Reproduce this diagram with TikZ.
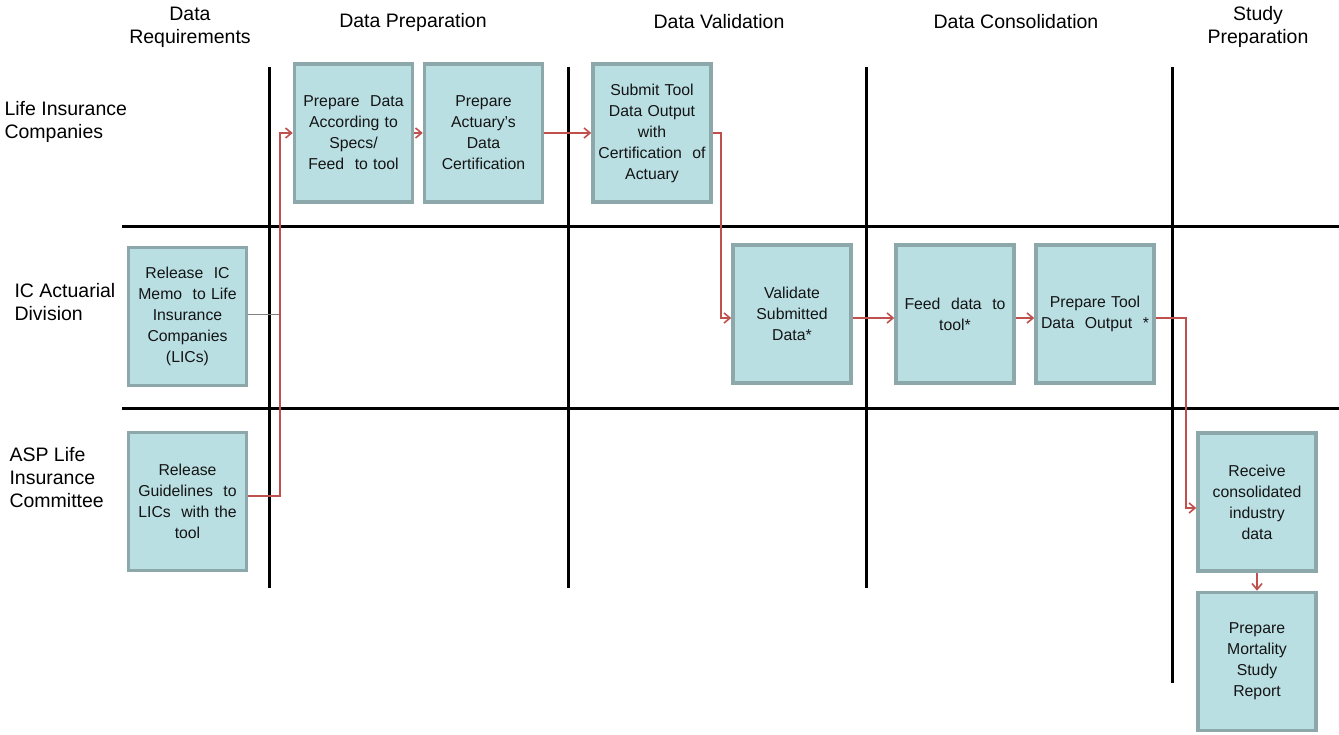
\documentclass[tikz,border=0pt]{standalone}
\usepackage{fontspec}
\setmainfont{Liberation Sans}
\usetikzlibrary{arrows.meta}
\definecolor{boxfill}{HTML}{B9DFE3}
\definecolor{boxline}{HTML}{8DA8AB}
\definecolor{flow}{HTML}{C0504D}
\definecolor{memo}{HTML}{7F7F7F}
\definecolor{ink}{HTML}{141414}
\tikzset{
  task/.style={draw=boxline, fill=boxfill, line width=3.5pt,
    minimum width=116pt, minimum height=138pt, inner sep=1pt,
    text width=116pt, align=center, text=ink,
    font=\fontsize{15.8}{21}\selectfont},
  lane/.style={draw=black, line width=3pt},
  head/.style={align=center, font=\fontsize{19.5}{23}\selectfont},
  lanelabel/.style={align=left, anchor=west, font=\fontsize{19.5}{23}\selectfont},
  flowline/.style={draw=flow, line width=2pt, -{Straight Barb[length=6pt,width=10pt,line width=1.6pt]}},
}
\begin{document}
\begin{tikzpicture}[x=1pt,y=-1pt]
\useasboundingbox (0,0) rectangle (1339,734);

% swimlane dividers
\draw[lane] (269,67) -- (269,588);
\draw[lane] (568,67) -- (568,588);
\draw[lane] (866,67) -- (866,588);
\draw[lane] (1172,67) -- (1172,683);
\draw[lane] (122,226) -- (1339,226);
\draw[lane] (122,408) -- (1339,408);

% phase headings
\node[head] (hReq) at (190,27) {Data\\Requirements};
\node[head] (hPrep) at (413,22) {Data Preparation};
\node[head] (hVal) at (719,22) {Data Validation};
\node[head] (hCon) at (1016,22) {Data Consolidation};
\node[head] (hStudy) at (1258,27) {Study\\Preparation};

% lane labels
\node[lanelabel] (lLIC) at (1,122) {Life Insurance\\Companies};
\node[lanelabel] (lIC) at (11,302) {IC Actuarial\\Division};
\node[lanelabel] (lASP) at (6,478) {ASP Life\\Insurance\\Committee};

% tasks
\node[task] (B1) at (353.5,133) {Prepare\ \ Data\\According to\\Specs/\\Feed\ \ to tool};
\node[task] (B2) at (483.5,133) {Prepare\\Actuary's\\Data\\Certification};
\node[task] (B3) at (652,133) {Submit Tool\\Data Output\\with\\Certification\ \ of\\Actuary};
\node[task] (B4) at (187.5,316.5) {Release\ \ IC\\Memo\ \ to Life\\Insurance\\Companies\\(LICs)};
\node[task] (B5) at (792,314) {Validate\\Submitted\\Data*};
\node[task] (B6) at (955,314) {Feed\ \ data\ \ to\\tool*};
\node[task] (B7) at (1095,314) {Prepare Tool\\Data\ \ Output\ \ *};
\node[task] (B8) at (187.5,501.5) {Release\\Guidelines\ \ to\\LICs\ \ with the\\tool};
\node[task] (B9) at (1257,502) {Receive\\consolidated\\industry\\data};
\node[task] (B10) at (1257,661.5) {Prepare\\Mortality\\Study\\Report};

% junction column for the requirement flows
\coordinate (jl) at (280,300);

% connectors
\draw[memo, line width=1.6pt] ([yshift=2pt]B4.east) -- ([yshift=2pt]B4.east -| jl);
\draw[flowline] ([yshift=6pt]B8.east) -| (jl) |- (B1.west);
\draw[flowline] (B1.east) -- (B2.west);
\draw[flowline] (B2.east) -- (B3.west);
\draw[flowline] (B3.east) -- ++(8,0) |- ([yshift=-4pt]B5.west);
\draw[flowline] ([yshift=-4pt]B5.east) -- ([yshift=-4pt]B6.west);
\draw[flowline] ([yshift=-4pt]B6.east) -- ([yshift=-4pt]B7.west);
\draw[flowline] ([yshift=-4pt]B7.east) -- ++(30,0) |- ([yshift=-6pt]B9.west);
\draw[flowline] (B9.south) -- (B10.north);
\end{tikzpicture}
\end{document}
